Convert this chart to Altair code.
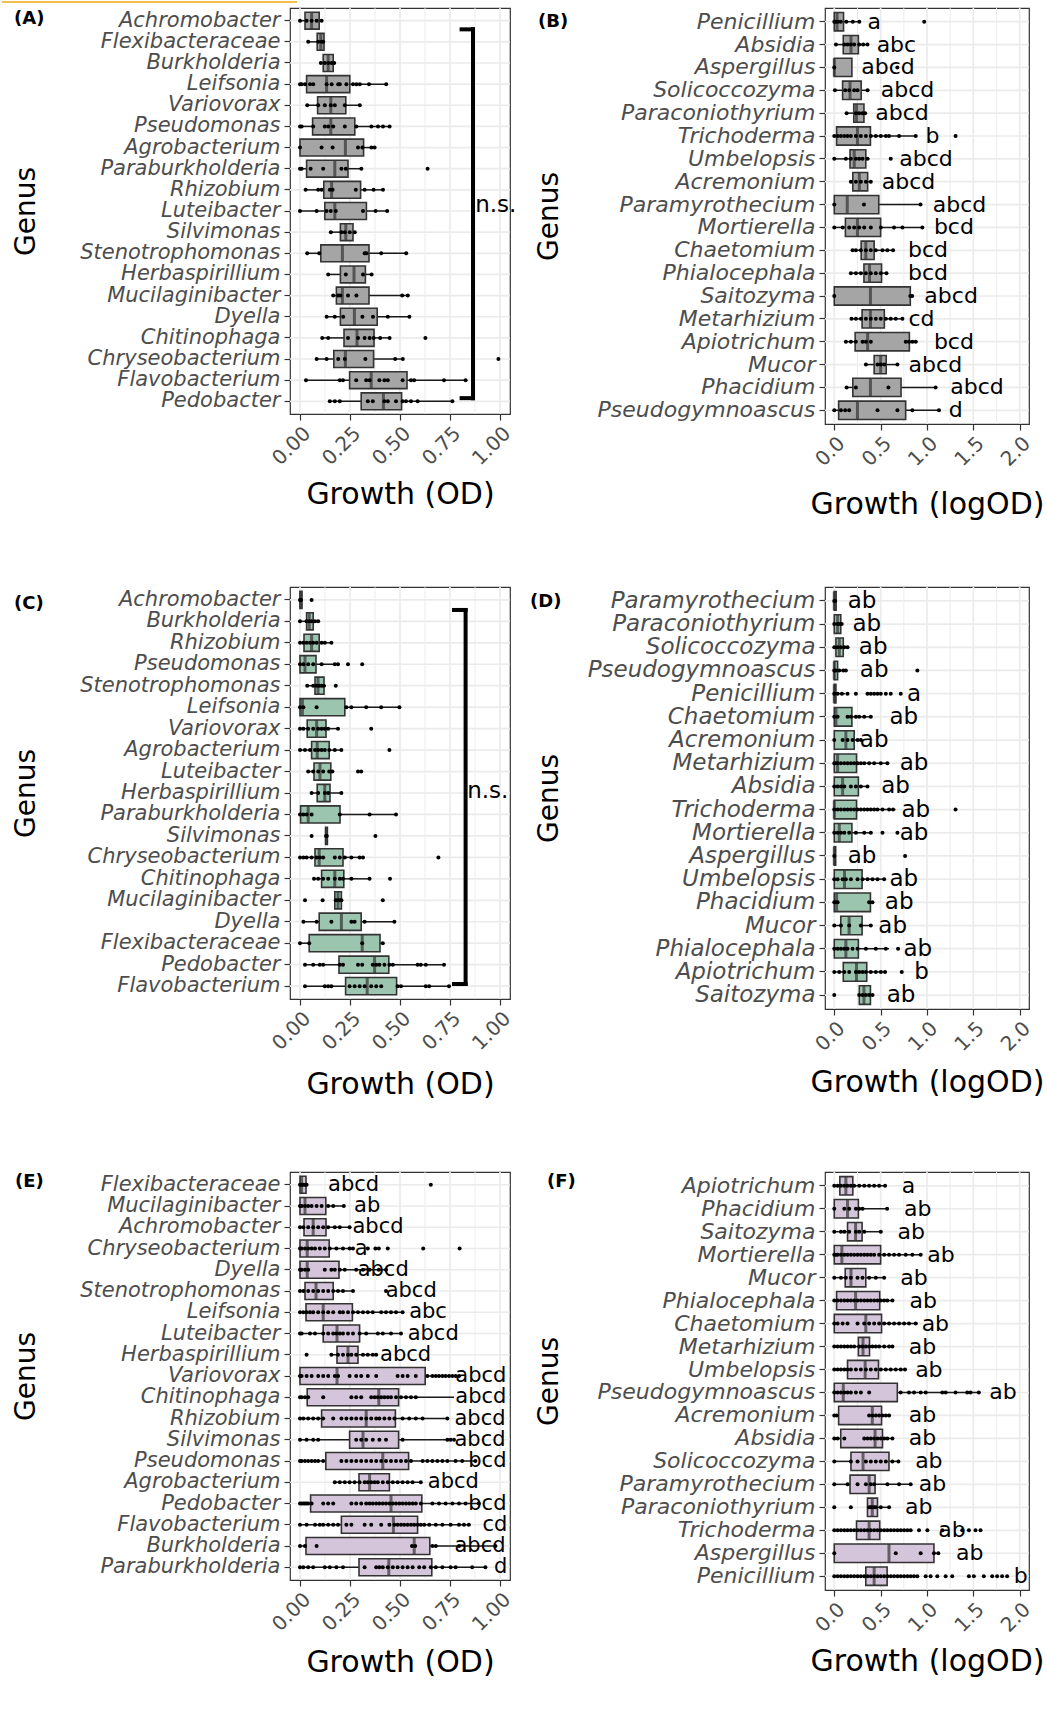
import altair as alt
import pandas as pd

FONT = "DejaVu Sans"

# ---------------- Panel A (bacteria, control) ----------------
A_genus = ["Achromobacter", "Flexibacteraceae", "Burkholderia", "Leifsonia", "Variovorax",
           "Pseudomonas", "Agrobacterium", "Paraburkholderia", "Rhizobium", "Luteibacter",
           "Silvimonas", "Stenotrophomonas", "Herbaspirillium", "Mucilaginibacter", "Dyella",
           "Chitinophaga", "Chryseobacterium", "Flavobacterium", "Pedobacter"]
A_lo = [0.0, 0.04, 0.105, 0.0, 0.036, 0.0, 0.0, 0.0, 0.028, 0.0, 0.15, 0.036, 0.141, 0.166, 0.129, 0.108, 0.083, 0.03, 0.146]
A_q1 = [0.025, 0.086, 0.116, 0.033, 0.088, 0.063, 0.0, 0.033, 0.119, 0.124, 0.202, 0.104, 0.202, 0.182, 0.202, 0.22, 0.169, 0.248, 0.306]
A_med = [0.058, 0.104, 0.141, 0.133, 0.154, 0.154, 0.227, 0.174, 0.158, 0.174, 0.229, 0.212, 0.27, 0.212, 0.272, 0.285, 0.227, 0.356, 0.417]
A_q3 = [0.096, 0.12, 0.166, 0.249, 0.229, 0.274, 0.318, 0.24, 0.303, 0.332, 0.265, 0.345, 0.327, 0.345, 0.386, 0.37, 0.368, 0.535, 0.508]
A_hi = [0.113, 0.12, 0.17, 0.43, 0.30, 0.45, 0.373, 0.307, 0.415, 0.44, 0.278, 0.53, 0.36, 0.539, 0.547, 0.451, 0.514, 0.836, 0.762]
A_pts = [
    [0.0, 0.033, 0.058, 0.083, 0.108],
    [0.041, 0.091, 0.108, 0.116],
    [0.104, 0.124, 0.141, 0.158, 0.171],
    [0.0, 0.008, 0.025, 0.05, 0.066, 0.133, 0.158, 0.191, 0.199, 0.232, 0.265, 0.282, 0.299, 0.345, 0.431],
    [0.036, 0.091, 0.124, 0.154, 0.174, 0.224, 0.299],
    [0.0, 0.008, 0.066, 0.124, 0.141, 0.166, 0.224, 0.282, 0.357, 0.39, 0.415, 0.448],
    [0.0, 0.108, 0.163, 0.29, 0.312, 0.357, 0.373],
    [0.0, 0.008, 0.053, 0.116, 0.207, 0.229, 0.307, 0.638],
    [0.028, 0.091, 0.108, 0.149, 0.163, 0.279, 0.323, 0.368, 0.415],
    [0.0, 0.083, 0.133, 0.154, 0.179, 0.315, 0.378, 0.436],
    [0.154, 0.207, 0.224, 0.249, 0.274],
    [0.036, 0.096, 0.323, 0.332, 0.406, 0.531],
    [0.141, 0.229, 0.315, 0.358],
    [0.166, 0.191, 0.202, 0.24, 0.282, 0.511, 0.539],
    [0.133, 0.174, 0.216, 0.312, 0.365, 0.439, 0.547],
    [0.111, 0.141, 0.24, 0.29, 0.323, 0.348, 0.368, 0.401, 0.448, 0.627],
    [0.083, 0.133, 0.191, 0.224, 0.327, 0.476, 0.514, 0.992],
    [0.03, 0.199, 0.215, 0.281, 0.331, 0.348, 0.397, 0.422, 0.439, 0.513, 0.555, 0.571, 0.72, 0.828],
    [0.149, 0.174, 0.199, 0.339, 0.364, 0.422, 0.439, 0.48, 0.513, 0.53, 0.555, 0.588, 0.762],
]
A_bracket = [0.865, 0.808, 1.41, 18.85, 0.876, 9.7]  # x vertical, x arm, y top, y bottom, text x, text y

# ---------------- Panel B (fungi, control) ----------------
B_genus = ["Penicillium", "Absidia", "Aspergillus", "Solicoccozyma", "Paraconiothyrium", "Trichoderma",
           "Umbelopsis", "Acremonium", "Paramyrothecium", "Mortierella", "Chaetomium", "Phialocephala",
           "Saitozyma", "Metarhizium", "Apiotrichum", "Mucor", "Phacidium", "Pseudogymnoascus"]
B_lo = [0.0, 0.018, 0.0, 0.0, 0.13, 0.0, 0.0, 0.18, 0.0, 0.0, 0.2, 0.17, 0.0, 0.18, 0.125, 0.33, 0.125, 0.0]
B_q1 = [0.0, 0.097, 0.0, 0.09, 0.21, 0.025, 0.17, 0.2, 0.0, 0.12, 0.29, 0.32, 0.0, 0.30, 0.225, 0.43, 0.2, 0.047]
B_med = [0.03, 0.18, 0.0, 0.17, 0.24, 0.25, 0.215, 0.27, 0.14, 0.25, 0.34, 0.38, 0.39, 0.39, 0.36, 0.50, 0.39, 0.25]
B_q3 = [0.10, 0.26, 0.19, 0.29, 0.32, 0.39, 0.34, 0.36, 0.48, 0.50, 0.43, 0.51, 0.82, 0.54, 0.81, 0.56, 0.72, 0.77]
B_hi = [0.28, 0.36, 0.19, 0.38, 0.34, 0.88, 0.38, 0.405, 0.93, 0.95, 0.64, 0.57, 0.84, 0.74, 0.9, 0.68, 1.09, 1.13]
B_pts = [
    [0.0, 0.02, 0.04, 0.07, 0.13, 0.2, 0.27, 0.97],
    [0.018, 0.108, 0.143, 0.179, 0.215, 0.269, 0.312, 0.358],
    [0.0, 0.68],
    [0.007, 0.118, 0.161, 0.215, 0.251, 0.358],
    [0.133, 0.233, 0.269, 0.305, 0.333],
    [0.0, 0.036, 0.072, 0.108, 0.143, 0.179, 0.233, 0.287, 0.341, 0.394, 0.448, 0.502, 0.556, 0.591, 0.699, 0.878, 1.308],
    [0.0, 0.125, 0.179, 0.233, 0.269, 0.305, 0.358, 0.609],
    [0.179, 0.233, 0.287, 0.341, 0.394],
    [0.0, 0.32, 0.93],
    [0.0, 0.09, 0.161, 0.215, 0.269, 0.323, 0.394, 0.502, 0.645, 0.735, 0.95],
    [0.197, 0.233, 0.287, 0.341, 0.394, 0.448, 0.52, 0.573, 0.634],
    [0.179, 0.233, 0.287, 0.341, 0.394, 0.448, 0.502, 0.563],
    [0.0, 0.82, 0.84],
    [0.186, 0.233, 0.287, 0.341, 0.394, 0.448, 0.502, 0.556, 0.609, 0.663, 0.735],
    [0.125, 0.179, 0.233, 0.305, 0.341, 0.394, 0.771, 0.806, 0.842, 0.878],
    [0.341, 0.466, 0.502, 0.538, 0.681],
    [0.133, 0.233, 0.584, 1.093],
    [0.0, 0.072, 0.118, 0.161, 0.466, 0.681, 0.842, 1.129],
]
B_letters = ["a", "abc", "abcd", "abcd", "abcd", "b", "abcd", "abcd", "abcd", "bcd", "bcd", "bcd",
             "abcd", "cd", "bcd", "abcd", "abcd", "d"]
B_letter_x = [0.43, 0.67, 0.58, 0.79, 0.73, 1.06, 0.99, 0.80, 1.35, 1.29, 1.01, 1.01, 1.26, 0.94, 1.29, 1.09, 1.54, 1.31]

# ---------------- Panel C (bacteria, green) ----------------
C_genus = ["Achromobacter", "Burkholderia", "Rhizobium", "Pseudomonas", "Stenotrophomonas", "Leifsonia",
           "Variovorax", "Agrobacterium", "Luteibacter", "Herbaspirillium", "Paraburkholderia", "Silvimonas",
           "Chryseobacterium", "Chitinophaga", "Mucilaginibacter", "Dyella", "Flexibacteraceae",
           "Pedobacter", "Flavobacterium"]
C_lo = [0.0, 0.0, 0.0, 0.0, 0.036, 0.0, 0.0, 0.0, 0.041, 0.058, 0.0, 0.128, 0.0, 0.066, 0.174, 0.017, 0.0, 0.025, 0.025]
C_q1 = [0.0, 0.033, 0.02, 0.0, 0.075, 0.0, 0.036, 0.058, 0.07, 0.086, 0.003, 0.128, 0.075, 0.108, 0.174, 0.096, 0.046, 0.195, 0.228]
C_med = [0.003, 0.046, 0.058, 0.025, 0.09, 0.012, 0.083, 0.086, 0.1, 0.124, 0.041, 0.132, 0.096, 0.174, 0.19, 0.207, 0.311, 0.373, 0.336]
C_q3 = [0.01, 0.066, 0.096, 0.08, 0.12, 0.224, 0.13, 0.146, 0.154, 0.15, 0.2, 0.137, 0.215, 0.219, 0.207, 0.306, 0.4, 0.444, 0.483]
C_hi = [0.01, 0.096, 0.157, 0.19, 0.13, 0.5, 0.195, 0.207, 0.161, 0.207, 0.48, 0.137, 0.315, 0.348, 0.207, 0.472, 0.42, 0.72, 0.753]
C_pts = [
    [0.0, 0.005, 0.058],
    [0.0, 0.033, 0.046, 0.058, 0.075, 0.091],
    [0.0, 0.017, 0.033, 0.05, 0.066, 0.083, 0.108, 0.124, 0.157],
    [0.0, 0.017, 0.041, 0.066, 0.108, 0.174, 0.19, 0.24, 0.311],
    [0.036, 0.066, 0.083, 0.096, 0.108, 0.119, 0.179],
    [0.0, 0.017, 0.083, 0.232, 0.257, 0.331, 0.406, 0.497],
    [0.0, 0.017, 0.041, 0.066, 0.091, 0.108, 0.124, 0.141, 0.19, 0.356],
    [0.0, 0.025, 0.05, 0.075, 0.091, 0.108, 0.124, 0.146, 0.174, 0.207, 0.447],
    [0.041, 0.066, 0.091, 0.116, 0.146, 0.162, 0.29, 0.306],
    [0.058, 0.091, 0.124, 0.141, 0.207],
    [0.0, 0.017, 0.033, 0.058, 0.199, 0.348, 0.48],
    [0.058, 0.13, 0.134, 0.377],
    [0.0, 0.017, 0.033, 0.058, 0.083, 0.099, 0.116, 0.174, 0.199, 0.224, 0.257, 0.298, 0.315, 0.692],
    [0.07, 0.091, 0.116, 0.141, 0.174, 0.199, 0.215, 0.257, 0.348, 0.45],
    [0.025, 0.113, 0.179, 0.19, 0.199, 0.207, 0.414],
    [0.017, 0.083, 0.157, 0.257, 0.273, 0.323, 0.472],
    [0.0, 0.046, 0.311, 0.414],
    [0.025, 0.066, 0.099, 0.116, 0.199, 0.215, 0.29, 0.311, 0.364, 0.381, 0.397, 0.422, 0.447, 0.464, 0.588, 0.604, 0.629, 0.72],
    [0.025, 0.124, 0.141, 0.157, 0.248, 0.273, 0.298, 0.323, 0.356, 0.381, 0.406, 0.488, 0.505, 0.629, 0.646, 0.745],
]
C_bracket = [0.828, 0.77, 1.47, 18.9, 0.836, 9.9]

# ---------------- Panel D (fungi, green) ----------------
D_genus = ["Paramyrothecium", "Paraconiothyrium", "Solicoccozyma", "Pseudogymnoascus", "Penicillium",
           "Chaetomium", "Acremonium", "Metarhizium", "Absidia", "Trichoderma", "Mortierella",
           "Aspergillus", "Umbelopsis", "Phacidium", "Mucor", "Phialocephala", "Apiotrichum", "Saitozyma"]
D_lo = [0.0, 0.0, 0.0, 0.0, 0.0, 0.0, 0.0, 0.0, 0.0, 0.0, 0.0, 0.0, 0.0, 0.0, 0.0, 0.0, 0.0, 0.27]
D_q1 = [0.0, 0.0, 0.018, 0.0, 0.0, 0.0, 0.0, 0.0, 0.0, 0.0, 0.0, 0.0, 0.0, 0.0, 0.07, 0.0, 0.097, 0.27]
D_med = [0.0, 0.036, 0.054, 0.0, 0.0, 0.018, 0.125, 0.036, 0.09, 0.0, 0.054, 0.0, 0.11, 0.025, 0.16, 0.125, 0.24, 0.32]
D_q3 = [0.02, 0.07, 0.097, 0.036, 0.018, 0.19, 0.215, 0.24, 0.26, 0.24, 0.19, 0.015, 0.3, 0.39, 0.3, 0.26, 0.35, 0.39]
D_hi = [0.02, 0.08, 0.143, 0.13, 0.12, 0.39, 0.3, 0.57, 0.36, 0.66, 0.41, 0.015, 0.54, 0.42, 0.39, 0.59, 0.556, 0.43]
D_pts = [
    [0.0, 0.01],
    [0.0, 0.036, 0.06, 0.08],
    [0.0, 0.036, 0.072, 0.108, 0.143],
    [0.0, 0.018, 0.054, 0.097, 0.125, 0.896],
    [0.0, 0.036, 0.082, 0.143, 0.233, 0.358, 0.394, 0.43, 0.466, 0.502, 0.556, 0.609, 0.717],
    [0.0, 0.036, 0.143, 0.179, 0.233, 0.269, 0.323, 0.394],
    [0.0, 0.09, 0.143, 0.197, 0.251, 0.287],
    [0.0, 0.018, 0.036, 0.072, 0.108, 0.143, 0.179, 0.215, 0.251, 0.287, 0.323, 0.376, 0.43, 0.502, 0.573],
    [0.0, 0.036, 0.072, 0.108, 0.179, 0.233, 0.287, 0.358],
    [0.0, 0.036, 0.072, 0.108, 0.143, 0.179, 0.215, 0.251, 0.287, 0.323, 0.358, 0.394, 0.43, 0.466, 0.52, 0.591, 0.634, 1.308],
    [0.0, 0.036, 0.072, 0.108, 0.161, 0.233, 0.323, 0.394, 0.52, 0.681],
    [0.0, 0.764],
    [0.0, 0.036, 0.09, 0.125, 0.179, 0.251, 0.305, 0.358, 0.412, 0.466, 0.538],
    [0.0, 0.018, 0.036, 0.376, 0.412],
    [0.0, 0.072, 0.161, 0.287, 0.394],
    [0.0, 0.036, 0.072, 0.108, 0.143, 0.197, 0.251, 0.341, 0.448, 0.556, 0.688],
    [0.0, 0.054, 0.108, 0.161, 0.233, 0.269, 0.305, 0.341, 0.394, 0.448, 0.502, 0.548, 0.728],
    [0.0, 0.269, 0.305, 0.341, 0.376, 0.412],
]
D_letters = ["ab", "ab", "ab", "ab", "a", "ab", "ab", "ab", "ab", "ab", "ab", "ab", "ab", "ab", "ab", "ab", "b", "ab"]
D_letter_x = [0.30, 0.35, 0.42, 0.43, 0.86, 0.75, 0.43, 0.86, 0.66, 0.88, 0.86, 0.30, 0.75, 0.70, 0.63, 0.90, 0.94, 0.72]

# ---------------- Panel E (bacteria, purple) ----------------
E_genus = ["Flexibacteraceae", "Mucilaginibacter", "Achromobacter", "Chryseobacterium", "Dyella",
           "Stenotrophomonas", "Leifsonia", "Luteibacter", "Herbaspirillium", "Variovorax", "Chitinophaga",
           "Rhizobium", "Silvimonas", "Pseudomonas", "Agrobacterium", "Pedobacter", "Flavobacterium",
           "Burkholderia", "Paraburkholderia"]
E_lo = [0.0, 0.0, 0.0, 0.0, 0.0, 0.0, 0.0, 0.0, 0.157, 0.0, 0.0, 0.0, 0.0, 0.0, 0.174, 0.0, 0.0, 0.0, 0.0]
E_q1 = [0.0, 0.0, 0.02, 0.0, 0.0, 0.025, 0.03, 0.116, 0.185, 0.0, 0.036, 0.108, 0.248, 0.129, 0.295, 0.053, 0.207, 0.03, 0.295]
E_med = [0.008, 0.025, 0.066, 0.036, 0.036, 0.08, 0.116, 0.185, 0.24, 0.185, 0.394, 0.331, 0.315, 0.414, 0.348, 0.455, 0.467, 0.571, 0.444]
E_q3 = [0.03, 0.129, 0.13, 0.146, 0.195, 0.166, 0.262, 0.298, 0.29, 0.626, 0.493, 0.477, 0.493, 0.543, 0.447, 0.609, 0.588, 0.649, 0.659]
E_hi = [0.036, 0.219, 0.248, 0.265, 0.43, 0.265, 0.513, 0.505, 0.38, 0.79, 0.77, 0.737, 0.76, 0.877, 0.604, 0.894, 0.853, 0.98, 0.927]
E_pts = [
    [0.0, 0.008, 0.017, 0.025, 0.033, 0.654],
    [0.0, 0.008, 0.025, 0.041, 0.058, 0.083, 0.108, 0.141, 0.166, 0.219],
    [0.0, 0.017, 0.041, 0.066, 0.091, 0.116, 0.141, 0.174, 0.199, 0.248],
    [0.0, 0.008, 0.025, 0.041, 0.058, 0.075, 0.099, 0.124, 0.149, 0.182, 0.215, 0.248, 0.265, 0.339, 0.377, 0.394, 0.439, 0.616, 0.798],
    [0.0, 0.008, 0.025, 0.041, 0.124, 0.157, 0.174, 0.199, 0.224, 0.281, 0.315, 0.348, 0.394, 0.43],
    [0.0, 0.017, 0.041, 0.066, 0.091, 0.116, 0.141, 0.166, 0.19, 0.215, 0.265, 0.43],
    [0.0, 0.017, 0.033, 0.05, 0.066, 0.091, 0.116, 0.141, 0.166, 0.199, 0.215, 0.24, 0.265, 0.29, 0.315, 0.339, 0.364, 0.406, 0.43, 0.455, 0.48, 0.513],
    [0.0, 0.008, 0.05, 0.075, 0.116, 0.141, 0.166, 0.182, 0.199, 0.215, 0.24, 0.265, 0.298, 0.331, 0.389, 0.414, 0.455, 0.505],
    [0.033, 0.157, 0.19, 0.215, 0.24, 0.257, 0.281, 0.315, 0.339, 0.364, 0.381],
    [0.0, 0.008, 0.033, 0.058, 0.091, 0.116, 0.141, 0.174, 0.19, 0.248, 0.281, 0.306, 0.339, 0.381, 0.488, 0.513, 0.538, 0.579, 0.637, 0.662, 0.679, 0.695, 0.712, 0.728, 0.745, 0.762, 0.778, 0.795],
    [0.0, 0.008, 0.025, 0.041, 0.116, 0.257, 0.281, 0.306, 0.356, 0.373, 0.389, 0.406, 0.422, 0.439, 0.455, 0.48, 0.505, 0.53, 0.555, 0.579],
    [0.0, 0.017, 0.041, 0.066, 0.091, 0.116, 0.166, 0.207, 0.232, 0.257, 0.281, 0.306, 0.331, 0.356, 0.381, 0.397, 0.422, 0.447, 0.472, 0.513, 0.546, 0.579, 0.613, 0.737],
    [0.0, 0.033, 0.066, 0.091, 0.281, 0.306, 0.331, 0.364, 0.397, 0.43, 0.513, 0.737, 0.753, 0.77],
    [0.0, 0.008, 0.025, 0.041, 0.058, 0.075, 0.091, 0.116, 0.207, 0.232, 0.257, 0.281, 0.306, 0.331, 0.356, 0.381, 0.406, 0.43, 0.455, 0.48, 0.505, 0.53, 0.555, 0.613, 0.637, 0.662, 0.687, 0.712, 0.737, 0.778, 0.811, 0.877],
    [0.174, 0.199, 0.224, 0.248, 0.273, 0.298, 0.323, 0.339, 0.356, 0.373, 0.389, 0.414, 0.439, 0.464, 0.488, 0.513, 0.538, 0.563, 0.604],
    [0.0, 0.008, 0.017, 0.025, 0.033, 0.041, 0.058, 0.116, 0.141, 0.166, 0.257, 0.281, 0.306, 0.331, 0.348, 0.364, 0.381, 0.397, 0.414, 0.43, 0.447, 0.464, 0.48, 0.497, 0.513, 0.53, 0.546, 0.563, 0.579, 0.604, 0.662, 0.695, 0.728, 0.762, 0.795, 0.828, 0.894],
    [0.0, 0.033, 0.075, 0.099, 0.116, 0.141, 0.166, 0.19, 0.232, 0.257, 0.323, 0.356, 0.406, 0.447, 0.472, 0.488, 0.505, 0.521, 0.538, 0.555, 0.571, 0.588, 0.604, 0.621, 0.646, 0.679, 0.712, 0.753, 0.795, 0.82, 0.844],
    [0.0, 0.025, 0.083, 0.56, 0.576, 0.662, 0.679, 0.795, 0.977],
    [0.0, 0.017, 0.041, 0.066, 0.124, 0.149, 0.182, 0.215, 0.323, 0.381, 0.397, 0.414, 0.439, 0.464, 0.488, 0.513, 0.538, 0.563, 0.596, 0.621, 0.654, 0.679, 0.712, 0.753, 0.778, 0.861, 0.927],
]
E_letters = ["abcd", "ab", "abcd", "a", "abcd", "abcd", "abc", "abcd", "abcd", "abcd", "abcd", "abcd",
             "abcd", "bcd", "abcd", "bcd", "cd", "abcd", "d"]
E_letter_x = [0.268, 0.336, 0.39, 0.306, 0.416, 0.556, 0.64, 0.666, 0.528, 0.904, 0.904, 0.9, 0.9, 0.937, 0.767, 0.937, 0.975, 0.9, 1.003]

# ---------------- Panel F (fungi, purple) ----------------
F_genus = ["Apiotrichum", "Phacidium", "Saitozyma", "Mortierella", "Mucor", "Phialocephala", "Chaetomium",
           "Metarhizium", "Umbelopsis", "Pseudogymnoascus", "Acremonium", "Absidia", "Solicoccozyma",
           "Paramyrothecium", "Paraconiothyrium", "Trichoderma", "Aspergillus", "Penicillium"]
F_lo = [0.0, 0.0, 0.0, 0.0, 0.0, 0.0, 0.0, 0.0, 0.0, 0.0, 0.0, 0.0, 0.0, 0.0, 0.358, 0.0, 0.0, 0.0]
F_q1 = [0.06, 0.0, 0.143, 0.0, 0.118, 0.025, 0.0, 0.26, 0.143, 0.0, 0.047, 0.07, 0.18, 0.17, 0.358, 0.24, 0.0, 0.34]
F_med = [0.125, 0.143, 0.23, 0.082, 0.18, 0.23, 0.34, 0.31, 0.333, 0.097, 0.41, 0.44, 0.31, 0.376, 0.41, 0.376, 0.59, 0.43]
F_q3 = [0.2, 0.26, 0.3, 0.5, 0.34, 0.49, 0.51, 0.38, 0.477, 0.68, 0.51, 0.52, 0.59, 0.44, 0.466, 0.49, 1.075, 0.57]
F_hi = [0.55, 0.57, 0.5, 0.93, 0.55, 0.645, 0.9, 0.63, 0.76, 1.56, 0.6, 0.63, 0.7, 0.82, 0.59, 0.82, 1.12, 0.9]
F_pts = [
    [0.0, 0.036, 0.072, 0.108, 0.143, 0.179, 0.215, 0.269, 0.323, 0.376, 0.43, 0.484, 0.548],
    [0.0, 0.108, 0.161, 0.233, 0.269, 0.305, 0.57],
    [0.0, 0.072, 0.108, 0.161, 0.233, 0.269, 0.323, 0.502],
    [0.0, 0.018, 0.036, 0.072, 0.108, 0.143, 0.179, 0.215, 0.251, 0.287, 0.323, 0.358, 0.394, 0.43, 0.484, 0.538, 0.591, 0.645, 0.699, 0.771, 0.842, 0.932],
    [0.0, 0.072, 0.125, 0.179, 0.251, 0.305, 0.376, 0.448, 0.538],
    [0.0, 0.036, 0.072, 0.108, 0.143, 0.179, 0.215, 0.251, 0.287, 0.323, 0.358, 0.394, 0.43, 0.466, 0.502, 0.538, 0.573, 0.627],
    [0.0, 0.036, 0.09, 0.143, 0.251, 0.323, 0.376, 0.43, 0.484, 0.538, 0.591, 0.645, 0.699, 0.753, 0.806, 0.878],
    [0.0, 0.036, 0.072, 0.108, 0.143, 0.179, 0.215, 0.269, 0.305, 0.341, 0.376, 0.412, 0.448, 0.484, 0.538, 0.591, 0.627],
    [0.0, 0.036, 0.072, 0.108, 0.143, 0.179, 0.233, 0.287, 0.341, 0.394, 0.448, 0.502, 0.556, 0.609, 0.663, 0.717, 0.763],
    [0.0, 0.036, 0.072, 0.108, 0.143, 0.179, 0.233, 0.287, 0.376, 0.717, 0.806, 0.86, 0.932, 0.986, 1.165, 1.201, 1.308, 1.434, 1.47, 1.559],
    [0.0, 0.025, 0.376, 0.412, 0.448, 0.484, 0.52, 0.556, 0.591],
    [0.0, 0.036, 0.108, 0.323, 0.358, 0.394, 0.43, 0.466, 0.502, 0.538, 0.573, 0.627],
    [0.0, 0.179, 0.251, 0.341, 0.394, 0.448, 0.502, 0.556, 0.627, 0.692],
    [0.0, 0.143, 0.251, 0.341, 0.394, 0.43, 0.573, 0.699, 0.824],
    [0.0, 0.179, 0.376, 0.394, 0.412, 0.43, 0.448, 0.502, 0.591],
    [0.0, 0.036, 0.072, 0.108, 0.143, 0.179, 0.215, 0.251, 0.287, 0.323, 0.358, 0.394, 0.43, 0.466, 0.502, 0.538, 0.573, 0.609, 0.645, 0.681, 0.717, 0.753, 0.789, 0.824, 0.914, 1.004, 1.165, 1.38, 1.452, 1.523, 1.577],
    [0.0, 0.663, 0.932, 1.075, 1.122],
    [0.0, 0.036, 0.072, 0.108, 0.143, 0.179, 0.215, 0.251, 0.287, 0.323, 0.358, 0.394, 0.43, 0.466, 0.502, 0.538, 0.573, 0.609, 0.645, 0.681, 0.717, 0.753, 0.789, 0.824, 0.86, 0.896, 0.986, 1.039, 1.111, 1.201, 1.272, 1.452, 1.505, 1.613, 1.703, 1.756, 1.81, 1.864],
]
F_letters = ["a"] + ["ab"] * 16 + ["b"]
F_letter_x = [0.8, 0.9, 0.83, 1.15, 0.86, 0.96, 1.09, 0.95, 1.02, 1.82, 0.95, 0.95, 1.02, 1.06, 0.91, 1.27, 1.46, 2.01]

GRAY = "#A5A5A5"
GREEN = "#9CC5AF"
PURPLE = "#D5C5DA"
GRID = "#EBEBEB"


def build_panel(genus, lo, q1, med, q3, hi, pts, fill, xmax, fmt, xtitle, width, height,
                tag, tag_x, tag_y, ytitle_x, xtitle_y, letters=None, letter_x=None,
                bracket=None, top_line=False):
    n = len(genus)
    step = height / (n + 0.2)
    text_size = min(23, int(step))
    box_px = 0.8 * step
    xs = alt.Scale(domain=[-0.05 * xmax, 1.05 * xmax], nice=False, zero=False)
    ys = alt.Scale(domain=genus, paddingInner=0, paddingOuter=0.1)
    major = [xmax * k / 4 for k in range(5)]
    minor = [xmax * (2 * k + 1) / 8 for k in range(4)]
    xaxis = alt.Axis(values=major, format=fmt, labelAngle=315, labelAlign="right", labelBaseline="top",
                     labelFontSize=20, labelFont=FONT, labelColor="#4D4D4D", labelPadding=3,
                     labelFlush=False, labelOverlap=False, labelBound=False,
                     tickSize=6, tickColor="#333333", tickWidth=1.2, domain=False, grid=False,
                     title=xtitle, titleFont=FONT, titleFontSize=30, titleFontWeight="normal",
                     titleColor="black", titleY=xtitle_y, titleBaseline="top")
    yaxis = alt.Axis(labelFont=FONT, labelFontSize=text_size, labelFontStyle="italic", labelColor="#4D4D4D",
                     labelPadding=4, labelLimit=400, labelOverlap=False,
                     tickSize=6, tickColor="#333333", tickWidth=1.2, domain=False, grid=False,
                     title="Genus", titleFont=FONT, titleFontSize=28, titleFontWeight="normal",
                     titleColor="black", titleAngle=270, titleX=ytitle_x, titleY=height / 2,
                     titleAlign="center", titleBaseline="middle")

    def X(f):
        return alt.X(f"{f}:Q", scale=xs, axis=xaxis)

    def Y():
        return alt.Y("genus:N", scale=ys, axis=yaxis)

    boxdf = pd.DataFrame({"genus": genus, "lo": lo, "q1": q1, "med": med, "q3": q3, "hi": hi})
    ptdf = pd.DataFrame({"genus": [g for g, vs in zip(genus, pts) for _ in vs],
                         "v": [v for vs in pts for v in vs]})

    layers = [
        alt.Chart(pd.DataFrame({"m": minor})).mark_rule(color=GRID, strokeWidth=0.9).encode(x=X("m")),
        alt.Chart(pd.DataFrame({"m": major})).mark_rule(color=GRID, strokeWidth=1.7).encode(x=X("m")),
        alt.Chart(pd.DataFrame({"genus": genus})).mark_rule(color=GRID, strokeWidth=1.7).encode(y=Y()),
        alt.Chart(boxdf).mark_rule(color="#1a1a1a", strokeWidth=1.5).encode(x=X("lo"), x2="q1", y=Y()),
        alt.Chart(boxdf).mark_rule(color="#1a1a1a", strokeWidth=1.5).encode(x=X("q3"), x2="hi", y=Y()),
        alt.Chart(boxdf).mark_bar(fill=fill, stroke="#333333", strokeWidth=1.6, height={"band": 0.8})
           .encode(x=X("q1"), x2="q3", y=Y()),
        alt.Chart(boxdf).mark_tick(color="#333333", thickness=3, size=box_px).encode(x=X("med"), y=Y()),
        alt.Chart(ptdf).mark_circle(color="black", size=16, opacity=1).encode(x=X("v"), y=Y()),
    ]
    if letters is not None:
        ldf = pd.DataFrame({"genus": genus, "letter": letters, "lx": letter_x})
        layers.append(alt.Chart(ldf).mark_text(font=FONT, fontSize=text_size, color="black", align="center",
                                               baseline="middle").encode(x=X("lx"), y=Y(), text="letter:N"))
    layers.append(alt.Chart(pd.DataFrame({"t": [tag]})).mark_text(
        font=FONT, fontSize=18, fontWeight="bold", align="left", baseline="top", color="black")
        .encode(x=alt.value(tag_x), y=alt.value(tag_y), text="t:N"))
    if top_line:
        layers.append(alt.Chart(pd.DataFrame({"t": [0]})).mark_rule(color="#F2C04A", strokeWidth=2)
                      .encode(x=alt.value(-288), x2=alt.value(7), y=alt.value(-6)))
    base = alt.layer(*layers)
    if bracket is None:
        return base.properties(width=width, height=height)
    xv, xarm, ytop, ybot, nsx, nsy = bracket
    yq = alt.Scale(domain=[0.4, n + 0.6], reverse=True, nice=False, zero=False)
    bdf = pd.DataFrame({"x1": [xarm, xv, xarm], "x2": [xv, xv, xv],
                        "y1": [ytop, ytop, ybot], "y2": [ytop, ybot, ybot]})
    brk = alt.Chart(bdf).mark_rule(color="black", strokeWidth=4, strokeCap="square").encode(
        x=X("x1"), x2="x2", y=alt.Y("y1:Q", scale=yq, axis=None), y2="y2")
    ns = alt.Chart(pd.DataFrame({"x": [nsx], "y": [nsy], "t": ["n.s."]})).mark_text(
        font=FONT, fontSize=23, color="black", align="left", baseline="middle").encode(
        x=X("x"), y=alt.Y("y:Q", scale=yq, axis=None), text="t:N")
    return alt.layer(base, alt.layer(brk, ns)).resolve_scale(y="independent").properties(
        width=width, height=height)


pA = build_panel(A_genus, A_lo, A_q1, A_med, A_q3, A_hi, A_pts, GRAY, 1.0, ".2f", "Growth (OD)",
                 220, 406, "(A)", -276, 2, -264, 65, bracket=A_bracket, top_line=True)
pB = build_panel(B_genus, B_lo, B_q1, B_med, B_q3, B_hi, B_pts, GRAY, 2.0, ".1f", "Growth (logOD)",
                 204, 416, "(B)", -287, 5, -276, 65, letters=B_letters, letter_x=B_letter_x)
pC = build_panel(C_genus, C_lo, C_q1, C_med, C_q3, C_hi, C_pts, GREEN, 1.0, ".2f", "Growth (OD)",
                 220, 412, "(C)", -276, 8, -264, 70, bracket=C_bracket)
pD = build_panel(D_genus, D_lo, D_q1, D_med, D_q3, D_hi, D_pts, GREEN, 2.0, ".1f", "Growth (logOD)",
                 204, 422, "(D)", -295, 6, -276, 58, letters=D_letters, letter_x=D_letter_x)
pE = build_panel(E_genus, E_lo, E_q1, E_med, E_q3, E_hi, E_pts, PURPLE, 1.0, ".2f", "Growth (OD)",
                 220, 408, "(E)", -275, 1, -264, 67, letters=E_letters, letter_x=E_letter_x)
pF = build_panel(F_genus, F_lo, F_q1, F_med, F_q3, F_hi, F_pts, PURPLE, 2.0, ".1f", "Growth (logOD)",
                 204, 418, "(F)", -278, 1, -276, 56, letters=F_letters, letter_x=F_letter_x)

chart = alt.concat(pA, pB, pC, pD, pE, pF, columns=2, spacing={"row": 163, "column": 315},
                   bounds="flush", align="each").properties(
    padding={"left": 0, "top": 0, "right": 0, "bottom": 0}
).configure(font=FONT).configure_view(stroke="#333333", strokeWidth=1.2)

chart.save("out.html", embed_options={"renderer": "svg", "actions": False})
